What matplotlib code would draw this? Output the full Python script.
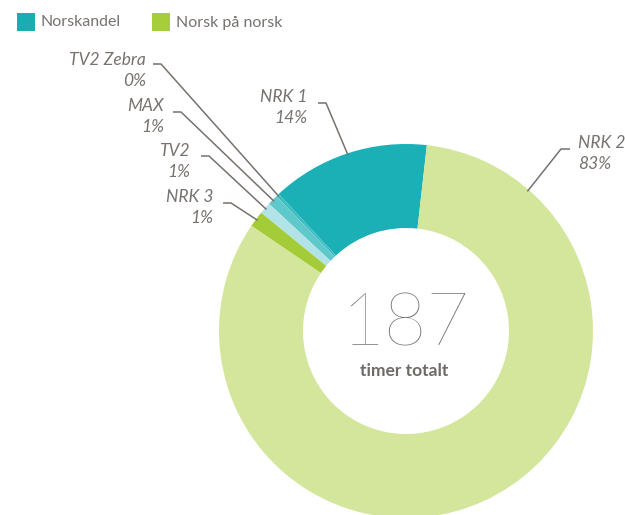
import numpy as np
import matplotlib
matplotlib.use("Agg")
import matplotlib.pyplot as plt
from matplotlib.patches import Rectangle

# timer per kanal (lest av figuren)
kanaler = ["NRK 1", "TV2 Zebra", "MAX", "TV2", "NRK 3", "NRK 2"]
timer = [25.6, 0.5, 1.7, 1.9, 2.6, 154.7]
farger = ["#1ab0b5", "#3dbdc1", "#5ec8cb", "#b2e3e6", "#a4cc39", "#d3e69c"]

legend_tekst = ["Norskandel", "Norsk på norsk"]
legend_farger = ["#1aacb1", "#a6ce39"]

grå = "#77726e"
plt.rcParams["font.family"] = ["Lato", "DejaVu Sans"]

fig = plt.figure(figsize=(6.25, 5.15), dpi=100)
ax = fig.add_axes([0, 0, 1, 1])

senter = (406, 331)
R = 187
wedges, _ = ax.pie(timer, colors=farger, startangle=-83.6, counterclock=False,
                   center=senter, radius=R,
                   wedgeprops=dict(width=84, linewidth=0))
ax.set_xlim(0, 625)
ax.set_ylim(515, 0)
ax.set_aspect("equal")
ax.axis("off")

total = sum(timer)

# plassering av etiketter: (tekst x, tekst y, ha, knekk x0, knekk x1, knekk y, vinkel-overstyring)
oppsett = {
    "NRK 1": (307, 97, "right", 318, 326, 103, None),
    "TV2 Zebra": (146, 60, "right", 153, 161, 64, None),
    "MAX": (164, 106, "right", 173, 181, 112, None),
    "TV2": (190, 151, "right", 201, 209, 156, None),
    "NRK 3": (213, 197, "right", 223, 231, 203, None),
    "NRK 2": (578, 143, "left", 570, 561, 149, -49),
}

for w, navn, t in zip(wedges, kanaler, timer):
    tx, ty, ha, x0, x1, ly, vinkel = oppsett[navn]
    if vinkel is None:
        vinkel = (w.theta1 + w.theta2) / 2
    ex = senter[0] + (R - 2) * np.cos(np.radians(vinkel))
    ey = senter[1] + (R - 2) * np.sin(np.radians(vinkel))
    ax.plot([x0, x1, ex], [ly, ly, ey], color=grå, lw=1.1, solid_capstyle="butt")
    pst = f"{round(t / total * 100)}%"
    ax.text(tx, ty, navn, ha=ha, va="center", fontsize=12.5, style="italic", color=grå)
    ax.text(tx, ty + 21, pst, ha=ha, va="center", fontsize=12.5, style="italic", color=grå)

# tekst i midten
ax.text(405, 325, f"{round(total)}", ha="center", va="center", fontsize=53,
        fontweight="light", color=grå)
ax.text(404, 371, "timer totalt", ha="center", va="center", fontsize=12.5,
        fontweight="bold", color="#6e6a66")

# forklaring
lx = [17, 152]
for x, tekst, farge in zip(lx, legend_tekst, legend_farger):
    ax.add_patch(Rectangle((x, 13), 18, 18, color=farge, lw=0))
    ax.text(x + 24, 22.5, tekst, ha="left", va="center", fontsize=11.5, color=grå)

fig.savefig("out.png", dpi=100)
